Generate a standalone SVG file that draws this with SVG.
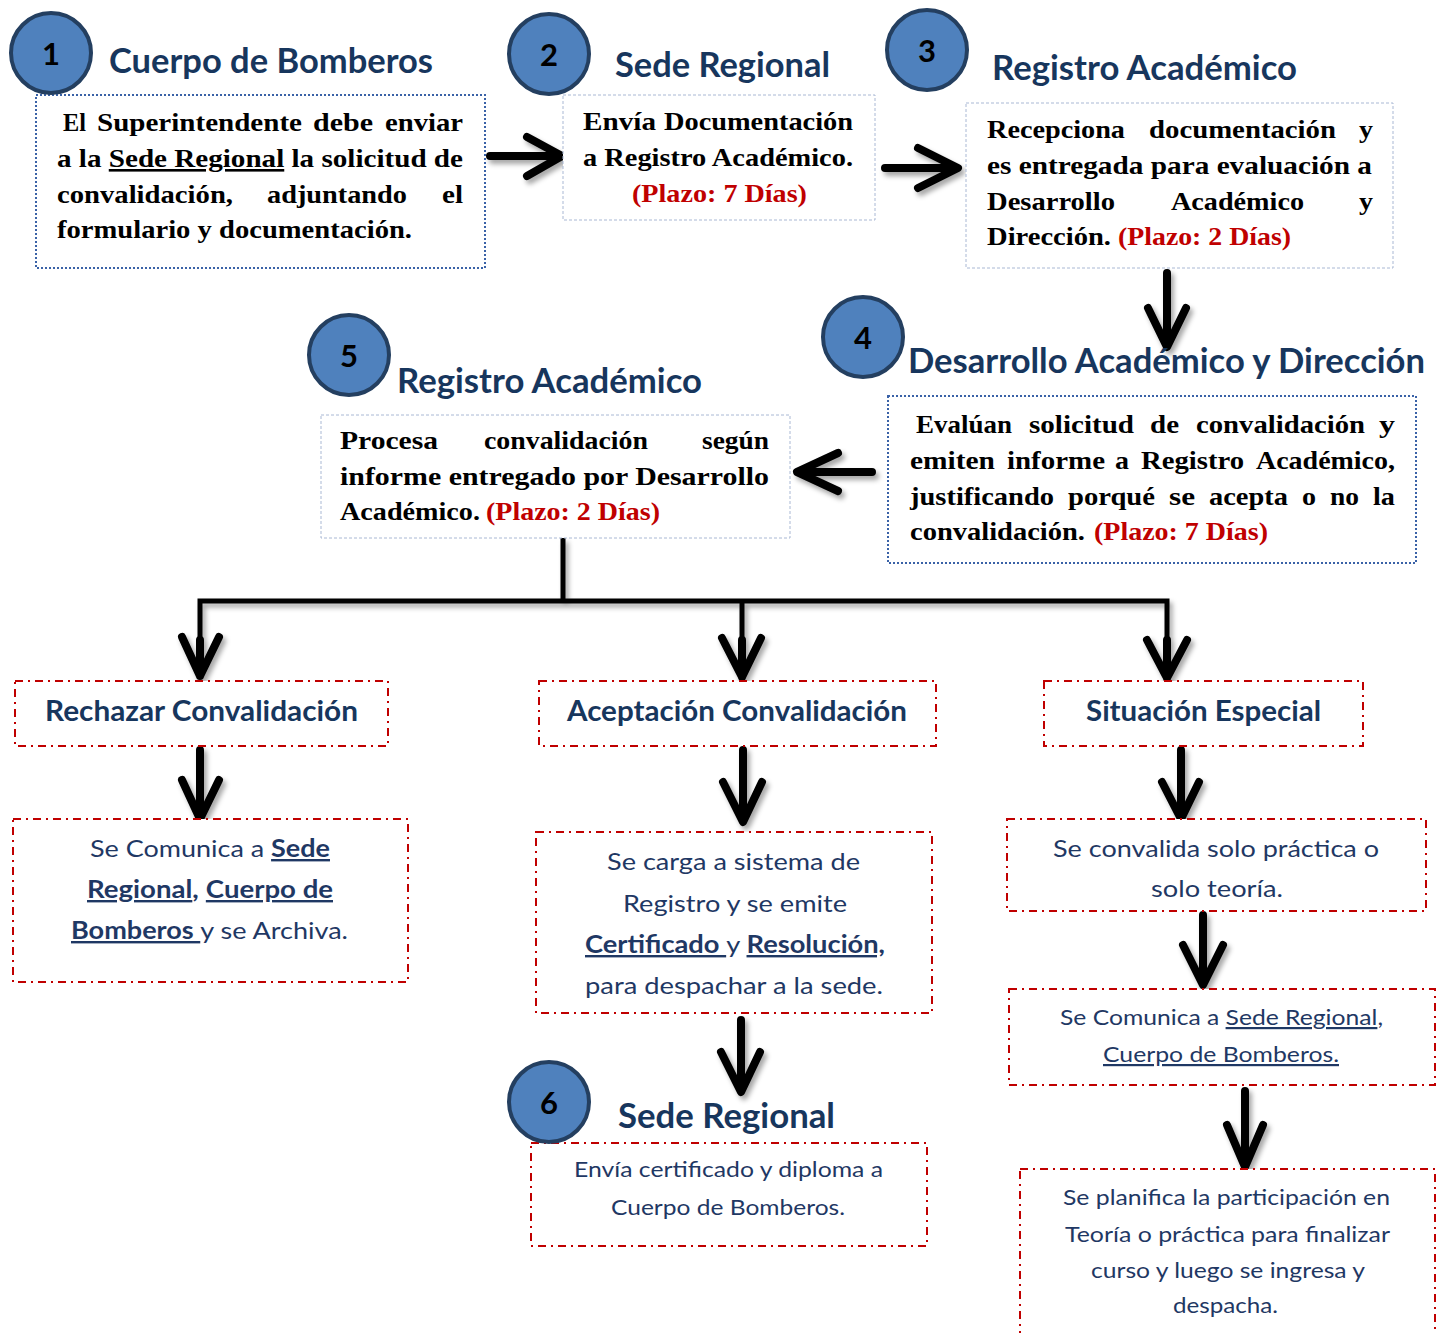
<svg xmlns="http://www.w3.org/2000/svg" width="1442" height="1333" viewBox="0 0 1442 1333">
<defs>
<filter id="sh" x="-20%" y="-20%" width="140%" height="140%">
<feDropShadow dx="3" dy="4" stdDeviation="2.5" flood-color="#000" flood-opacity="0.35"/>
</filter>
<style>
.circ{fill:#4f81bd;stroke:#243f60;stroke-width:4}
.num{font-family:Lato,"Liberation Sans",sans-serif;font-weight:700;font-size:31px;fill:#000;text-anchor:middle}
.ttl{font-family:Lato,"Liberation Sans",sans-serif;font-weight:700;font-size:34px;fill:#17365d}
.rt{font-family:Lato,"Liberation Sans",sans-serif;font-weight:700;font-size:29px;fill:#17365d}
.bd{font-family:"Liberation Serif",serif;font-weight:700;font-size:26px;fill:#000}
.red{fill:#c00000}
.cb{font-family:Lato,"Liberation Sans",sans-serif;font-size:24px;fill:#1f3864}
.cs{font-family:Lato,"Liberation Sans",sans-serif;font-size:22px;fill:#1f3864}
.b{font-weight:700}
.u{text-decoration:underline}
.dot{fill:#fff;stroke:#3a62a7;stroke-width:2;stroke-dasharray:2 2}
.lt{fill:#fff;stroke:#a9b8d4;stroke-width:1;stroke-dasharray:3 2}
.rd{fill:#fff;stroke:#c00000;stroke-width:2;stroke-dasharray:8 5 2 5}
.ln{fill:none;stroke:#000;stroke-width:8;stroke-linecap:round;stroke-linejoin:round}
.tr{fill:none;stroke:#000;stroke-width:5;stroke-linejoin:miter}
</style>
</defs>
<rect width="1442" height="1333" fill="#fff"/>

<g id="connectors" filter="url(#sh)">
<path class="ln" d="M490,156 H561 M527,137 L562,156 L527,176"/>
<path class="ln" d="M885,168 H957 M918,148 L958,168 L918,188"/>
<path class="ln" d="M1167,273 V346 M1148,308 L1167,347 L1186,308"/>
<path class="ln" d="M872,472 H798 M838,453 L797,472 L838,491"/>
<path class="tr" d="M563,538 V601"/>
<path class="tr" d="M200,660 V601 H1167 V660"/>
<path class="ln" d="M200,640 V676 M182,637 L200,676 L219,637"/>
<path class="tr" d="M742,601 V660"/>
<path class="ln" d="M742,640 V677 M722,638 L742,677 L761,638"/>
<path class="ln" d="M1167,640 V678 M1147,640 L1167,678 L1187,640"/>
<path class="ln" d="M200,750 V818 M182,780 L200,819 L219,780"/>
<path class="ln" d="M743,750 V821 M723,782 L743,822 L762,782"/>
<path class="ln" d="M741,1020 V1091 M721,1052 L741,1092 L760,1052"/>
<path class="ln" d="M1181,750 V818 M1162,782 L1181,819 L1199,782"/>
<path class="ln" d="M1203,915 V984 M1183,945 L1203,985 L1223,945"/>
<path class="ln" d="M1245,1091 V1166 M1227,1125 L1245,1167 L1263,1125"/>
</g>

<g id="n1">
<rect class="dot" x="36" y="95" width="449" height="173"/>
<circle class="circ" cx="51" cy="53" r="40"/>
<text class="num" x="51" y="65">1</text>
<text class="ttl" x="109" y="73" textLength="324" lengthAdjust="spacingAndGlyphs">Cuerpo de Bomberos</text>
<text class="bd" x="63" y="131" textLength="23" lengthAdjust="spacingAndGlyphs">El</text>
<text class="bd" x="97" y="131" textLength="205" lengthAdjust="spacingAndGlyphs">Superintendente</text>
<text class="bd" x="313" y="131" textLength="60" lengthAdjust="spacingAndGlyphs">debe</text>
<text class="bd" x="385" y="131" textLength="78" lengthAdjust="spacingAndGlyphs">enviar</text>
<text class="bd" x="57" y="167" textLength="406" lengthAdjust="spacingAndGlyphs">a la <tspan class="u">Sede Regional</tspan> la solicitud de</text>
<text class="bd" x="57" y="203" textLength="176" lengthAdjust="spacingAndGlyphs">convalidación,</text>
<text class="bd" x="267" y="203" textLength="140" lengthAdjust="spacingAndGlyphs">adjuntando</text>
<text class="bd" x="442" y="203" textLength="21" lengthAdjust="spacingAndGlyphs">el</text>
<text class="bd" x="57" y="238" textLength="355" lengthAdjust="spacingAndGlyphs">formulario y documentación.</text>
</g>

<g id="n2">
<rect class="lt" x="563" y="95" width="312" height="125"/>
<circle class="circ" cx="549" cy="54" r="40"/>
<text class="num" x="549" y="66">2</text>
<text class="ttl" x="615" y="77" textLength="215" lengthAdjust="spacingAndGlyphs">Sede Regional</text>
<text class="bd" x="583" y="130" textLength="73" lengthAdjust="spacingAndGlyphs">Envía</text>
<text class="bd" x="664" y="130" textLength="189" lengthAdjust="spacingAndGlyphs">Documentación</text>
<text class="bd" x="583" y="166" textLength="270" lengthAdjust="spacingAndGlyphs">a Registro Académico.</text>
<text class="bd red" x="632" y="202" textLength="175" lengthAdjust="spacingAndGlyphs">(Plazo: 7 Días)</text>
</g>

<g id="n3">
<rect class="lt" x="966" y="103" width="427" height="165"/>
<circle class="circ" cx="927" cy="50" r="40"/>
<text class="num" x="927" y="62">3</text>
<text class="ttl" x="992" y="80" textLength="305" lengthAdjust="spacingAndGlyphs">Registro Académico</text>
<text class="bd" x="987" y="138" textLength="138" lengthAdjust="spacingAndGlyphs">Recepciona</text>
<text class="bd" x="1149" y="138" textLength="187" lengthAdjust="spacingAndGlyphs">documentación</text>
<text class="bd" x="1359" y="138" textLength="14" lengthAdjust="spacingAndGlyphs">y</text>
<text class="bd" x="987" y="174" textLength="385" lengthAdjust="spacingAndGlyphs">es entregada para evaluación a</text>
<text class="bd" x="987" y="210" textLength="128" lengthAdjust="spacingAndGlyphs">Desarrollo</text>
<text class="bd" x="1171" y="210" textLength="133" lengthAdjust="spacingAndGlyphs">Académico</text>
<text class="bd" x="1359" y="210" textLength="14" lengthAdjust="spacingAndGlyphs">y</text>
<text class="bd" x="987" y="245" textLength="124" lengthAdjust="spacingAndGlyphs">Dirección.</text>
<text class="bd red" x="1118" y="245" textLength="173" lengthAdjust="spacingAndGlyphs">(Plazo: 2 Días)</text>
</g>

<g id="n4">
<rect class="dot" x="888" y="396" width="528" height="167"/>
<circle class="circ" cx="863" cy="337" r="40"/>
<text class="num" x="863" y="349">4</text>
<text class="ttl" x="908" y="373" textLength="517" lengthAdjust="spacingAndGlyphs">Desarrollo Académico y Dirección</text>
<text class="bd" x="916" y="433" textLength="96" lengthAdjust="spacingAndGlyphs">Evalúan</text>
<text class="bd" x="1029" y="433" textLength="105" lengthAdjust="spacingAndGlyphs">solicitud</text>
<text class="bd" x="1150" y="433" textLength="29" lengthAdjust="spacingAndGlyphs">de</text>
<text class="bd" x="1196" y="433" textLength="169" lengthAdjust="spacingAndGlyphs">convalidación</text>
<text class="bd" x="1379" y="433" textLength="16" lengthAdjust="spacingAndGlyphs">y</text>
<text class="bd" x="910" y="469" textLength="85" lengthAdjust="spacingAndGlyphs">emiten</text>
<text class="bd" x="1007" y="469" textLength="98" lengthAdjust="spacingAndGlyphs">informe</text>
<text class="bd" x="1115" y="469" textLength="14" lengthAdjust="spacingAndGlyphs">a</text>
<text class="bd" x="1141" y="469" textLength="103" lengthAdjust="spacingAndGlyphs">Registro</text>
<text class="bd" x="1256" y="469" textLength="139" lengthAdjust="spacingAndGlyphs">Académico,</text>
<text class="bd" x="910" y="505" textLength="144" lengthAdjust="spacingAndGlyphs">justificando</text>
<text class="bd" x="1068" y="505" textLength="87" lengthAdjust="spacingAndGlyphs">porqué</text>
<text class="bd" x="1169" y="505" textLength="26" lengthAdjust="spacingAndGlyphs">se</text>
<text class="bd" x="1209" y="505" textLength="79" lengthAdjust="spacingAndGlyphs">acepta</text>
<text class="bd" x="1302" y="505" textLength="14" lengthAdjust="spacingAndGlyphs">o</text>
<text class="bd" x="1330" y="505" textLength="29" lengthAdjust="spacingAndGlyphs">no</text>
<text class="bd" x="1373" y="505" textLength="22" lengthAdjust="spacingAndGlyphs">la</text>
<text class="bd" x="910" y="540" textLength="175" lengthAdjust="spacingAndGlyphs">convalidación.</text>
<text class="bd red" x="1094" y="540" textLength="174" lengthAdjust="spacingAndGlyphs">(Plazo: 7 Días)</text>
</g>

<g id="n5">
<rect class="lt" x="321" y="415" width="469" height="123"/>
<circle class="circ" cx="349" cy="355" r="40"/>
<text class="num" x="349" y="367">5</text>
<text class="ttl" x="397" y="393" textLength="305" lengthAdjust="spacingAndGlyphs">Registro Académico</text>
<text class="bd" x="340" y="449" textLength="98" lengthAdjust="spacingAndGlyphs">Procesa</text>
<text class="bd" x="484" y="449" textLength="164" lengthAdjust="spacingAndGlyphs">convalidación</text>
<text class="bd" x="702" y="449" textLength="67" lengthAdjust="spacingAndGlyphs">según</text>
<text class="bd" x="340" y="485" textLength="429" lengthAdjust="spacingAndGlyphs">informe entregado por Desarrollo</text>
<text class="bd" x="340" y="520" textLength="140" lengthAdjust="spacingAndGlyphs">Académico.</text>
<text class="bd red" x="486" y="520" textLength="174" lengthAdjust="spacingAndGlyphs">(Plazo: 2 Días)</text>
</g>

<g id="rechazar">
<rect class="rd" x="15" y="681" width="373" height="65"/>
<text class="rt" x="45" y="721" textLength="313" lengthAdjust="spacingAndGlyphs">Rechazar Convalidación</text>
</g>
<g id="rechazar-comunica">
<rect class="rd" x="13" y="819" width="395" height="163"/>
<text class="cb" x="90" y="857" textLength="240" lengthAdjust="spacingAndGlyphs">Se Comunica a <tspan class="b u">Sede</tspan></text>
<text class="cb" x="87" y="898" textLength="246" lengthAdjust="spacingAndGlyphs"><tspan class="b u">Regional</tspan><tspan class="b">,</tspan> <tspan class="b u">Cuerpo de</tspan></text>
<text class="cb" x="71" y="939" textLength="277" lengthAdjust="spacingAndGlyphs"><tspan class="b u">Bomberos </tspan>y se Archiva.</text>
</g>

<g id="aceptacion">
<rect class="rd" x="539" y="681" width="397" height="65"/>
<text class="rt" x="567" y="721" textLength="340" lengthAdjust="spacingAndGlyphs">Aceptación Convalidación</text>
</g>
<g id="aceptacion-carga">
<rect class="rd" x="536" y="832" width="396" height="181"/>
<text class="cb" x="607" y="870" textLength="253" lengthAdjust="spacingAndGlyphs">Se carga a sistema de</text>
<text class="cb" x="623" y="912" textLength="224" lengthAdjust="spacingAndGlyphs">Registro y se emite</text>
<text class="cb" x="585" y="953" textLength="300" lengthAdjust="spacingAndGlyphs"><tspan class="b u">Certificado </tspan>y <tspan class="b u">Resolución,</tspan></text>
<text class="cb" x="585" y="994" textLength="298" lengthAdjust="spacingAndGlyphs">para despachar a la sede.</text>
</g>

<g id="n6">
<rect class="rd" x="531" y="1143" width="396" height="103"/>
<circle class="circ" cx="549" cy="1102" r="40"/>
<text class="num" x="549" y="1114">6</text>
<text class="ttl" x="618" y="1128" textLength="217" lengthAdjust="spacingAndGlyphs">Sede Regional</text>
<text class="cs" x="574" y="1177" textLength="309" lengthAdjust="spacingAndGlyphs">Envía certificado y diploma a</text>
<text class="cs" x="611" y="1215" textLength="234" lengthAdjust="spacingAndGlyphs">Cuerpo de Bomberos.</text>
</g>

<g id="especial">
<rect class="rd" x="1044" y="681" width="319" height="65"/>
<text class="rt" x="1086" y="721" textLength="235" lengthAdjust="spacingAndGlyphs">Situación Especial</text>
</g>
<g id="especial-convalida">
<rect class="rd" x="1007" y="819" width="419" height="92"/>
<text class="cb" x="1053" y="857" textLength="326" lengthAdjust="spacingAndGlyphs">Se convalida solo práctica o</text>
<text class="cb" x="1151" y="897" textLength="132" lengthAdjust="spacingAndGlyphs">solo teoría.</text>
</g>
<g id="especial-comunica">
<rect class="rd" x="1009" y="989" width="426" height="96"/>
<text class="cs" x="1060" y="1025" textLength="323" lengthAdjust="spacingAndGlyphs">Se Comunica a <tspan class="u">Sede Regional</tspan>,</text>
<text class="cs" x="1103" y="1062" textLength="236" lengthAdjust="spacingAndGlyphs"><tspan class="u">Cuerpo de Bomberos.</tspan></text>
</g>
<g id="especial-planifica">
<rect class="rd" x="1020" y="1169" width="415" height="190"/>
<text class="cs" x="1063" y="1205" textLength="327" lengthAdjust="spacingAndGlyphs">Se planifica la participación en</text>
<text class="cs" x="1065" y="1242" textLength="325" lengthAdjust="spacingAndGlyphs">Teoría o práctica para finalizar</text>
<text class="cs" x="1091" y="1278" textLength="274" lengthAdjust="spacingAndGlyphs">curso y luego se ingresa y</text>
<text class="cs" x="1173" y="1313" textLength="105" lengthAdjust="spacingAndGlyphs">despacha.</text>
</g>
</svg>
